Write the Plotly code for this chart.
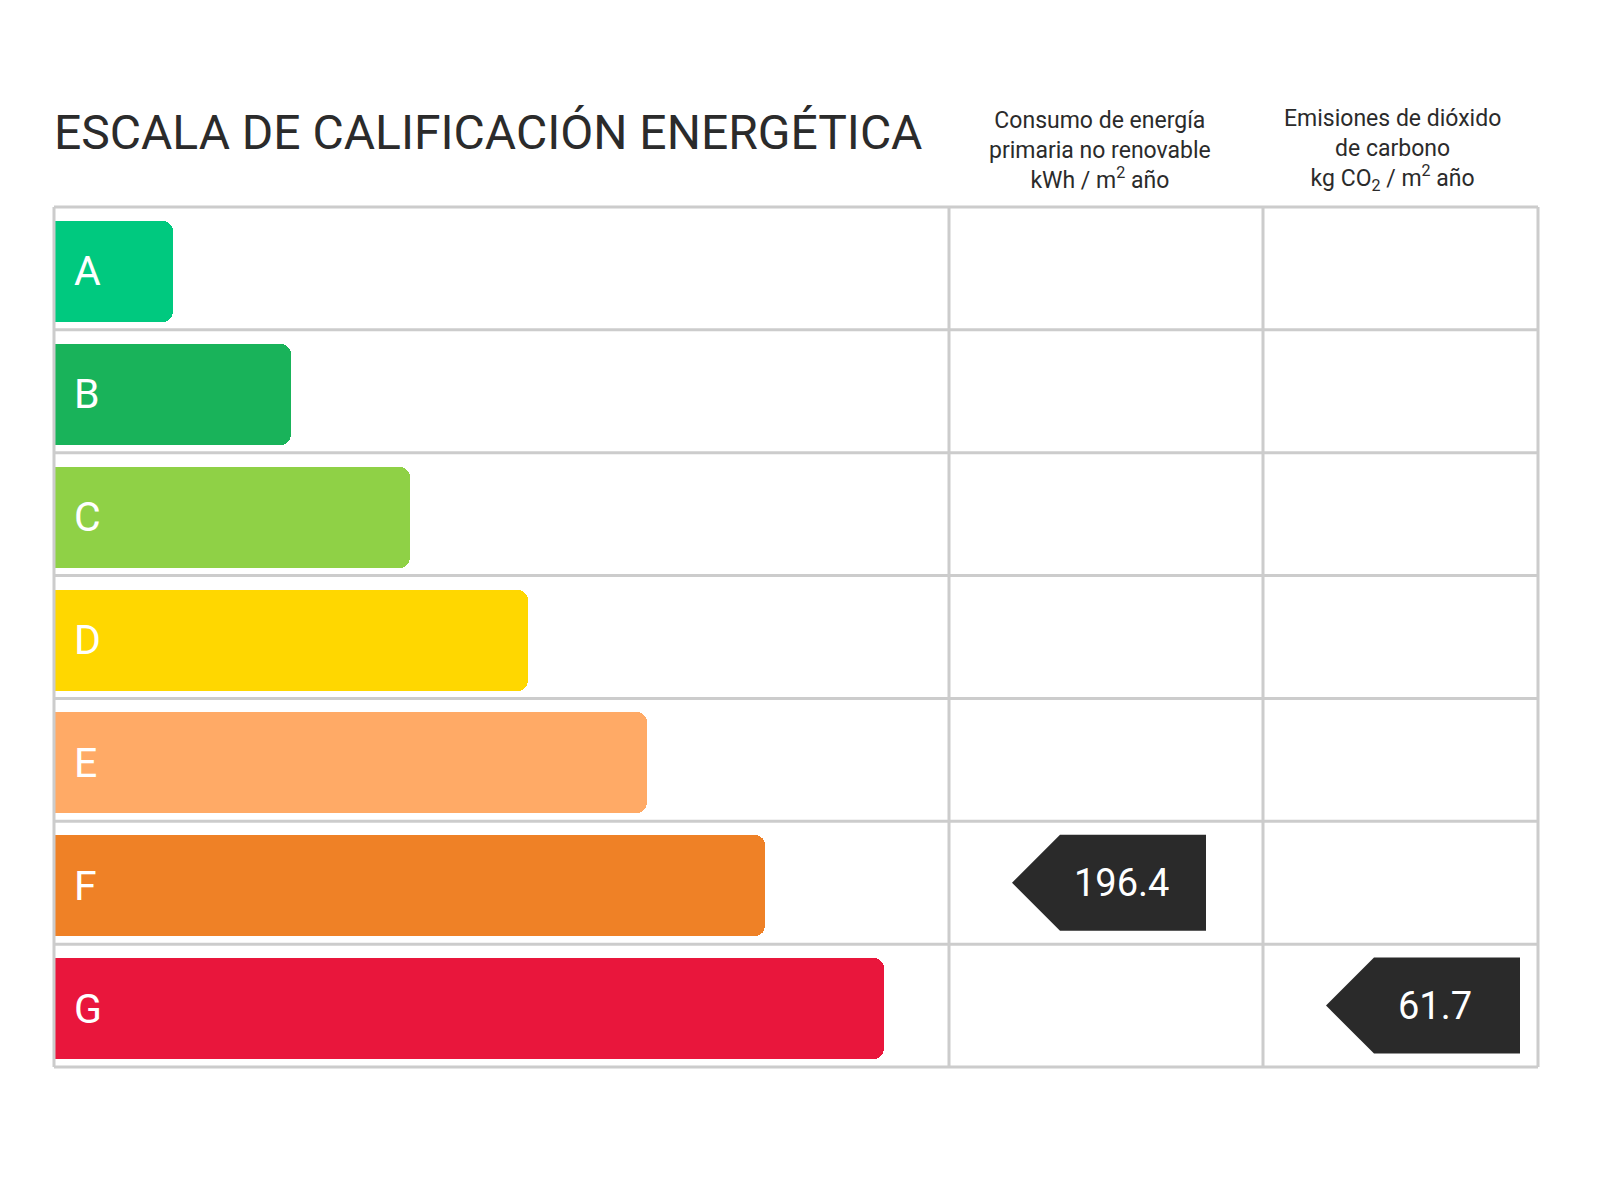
import plotly.graph_objects as go

letters = ["A", "B", "C", "D", "E", "F", "G"]
colors = ["#00c97f", "#19b35a", "#8fd146", "#ffd700", "#ffaa66", "#ef8126", "#e9163c"]
steps = [1, 2, 3, 4, 5, 6, 7]
energy_value = 196.4
energy_class = "F"
co2_value = 61.7
co2_class = "G"

# layout in reference pixel units; page has an 8px body offset
W, H = 1600, 1200
OFF = 8
L, R, T, B = 54, 1538, 207, 1067
C1, C2 = 949, 1263
pitch = (B - T) / 7
step_len = 118.5
bar_h = 101

fig = go.Figure()
centers = [T + pitch * (i + 0.5) + 3 for i in range(7)]
fig.add_trace(go.Bar(
    x=[step_len * s + 30 for s in steps], base=-30, y=centers, orientation="h",
    width=bar_h, marker=dict(color=colors, cornerradius=10, line=dict(width=0)),
    xaxis="x2", yaxis="y2", hoverinfo="skip", showlegend=False))

for i, l in enumerate(letters):
    fig.add_annotation(x=72, y=centers[i], text=l, showarrow=False, xanchor="left",
                       font=dict(size=41, color="white", family="Roboto"))

lc = "#cccccc"
for i in range(8):
    y = T + pitch * i
    fig.add_shape(type="line", x0=L, x1=R, y0=y, y1=y, line=dict(color=lc, width=3))
for x in [L, C1, C2, R]:
    fig.add_shape(type="line", x0=x, x1=x, y0=T, y1=B, line=dict(color=lc, width=3))

def pointer(cell_left, cls, val):
    i = letters.index(cls)
    yc = T + pitch * (i + 0.5)
    y0, y1 = yc - 48, yc + 48
    tip = cell_left + 63
    xr = cell_left + 257
    xs = [tip, tip + 48, xr, xr, tip + 48, tip]
    ys = [yc, y0, y0, y1, y1, yc]
    fig.add_trace(go.Scatter(x=xs, y=ys, fill="toself", fillcolor="#2a2a2a", mode="lines",
                             line=dict(width=0, color="#2a2a2a"), hoverinfo="skip", showlegend=False))
    fig.add_annotation(x=(tip + 48 + xr) / 2 - 12, y=yc, text=f"{val}", showarrow=False,
                       font=dict(size=38, color="white", family="Roboto"))

pointer(C1, energy_class, energy_value)
pointer(C2, co2_class, co2_value)

fig.add_annotation(x=L - 2, y=132, text="ESCALA DE CALIFICACIÓN ENERGÉTICA", showarrow=False,
                   xanchor="left", font=dict(size=48, color="#2b2b2b", family="Roboto"))
fig.add_annotation(x=(C1 + C2) / 2 - 6, y=150,
                   text="Consumo de energía<br>primaria no renovable<br>kWh / m<sup>2</sup> año",
                   showarrow=False, font=dict(size=23, color="#2b2b2b", family="Roboto"))
fig.add_annotation(x=(C2 + R) / 2 - 8, y=150,
                   text="Emisiones de dióxido<br>de carbono<br>kg CO<sub>2</sub> / m<sup>2</sup> año",
                   showarrow=False, font=dict(size=23, color="#2b2b2b", family="Roboto"))

fig.update_layout(
    width=W, height=H, margin=dict(l=0, r=0, t=0, b=0),
    paper_bgcolor="white", plot_bgcolor="rgba(0,0,0,0)", bargap=0,
    xaxis=dict(range=[OFF, W + OFF], domain=[0, 1], visible=False),
    yaxis=dict(range=[H + OFF, OFF], domain=[0, 1], visible=False),
    xaxis2=dict(range=[0, W + OFF - L], domain=[(L - OFF) / W, 1], visible=False, anchor="y2"),
    yaxis2=dict(range=[H + OFF, OFF], domain=[0, 1], visible=False, anchor="x2"),
)
fig.write_html("out.html")
